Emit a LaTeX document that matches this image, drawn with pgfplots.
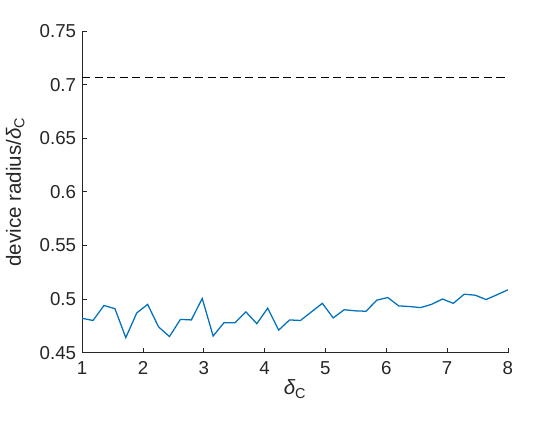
\documentclass[border=0pt]{standalone}
\usepackage{pgfplots}
\pgfplotsset{compat=1.18}
\usepackage{fontspec}
\setmainfont{Liberation Sans}
\definecolor{mblue}{rgb}{0,0.447,0.741}
\definecolor{axgray}{rgb}{0.15,0.15,0.15}
\begin{document}
\begin{tikzpicture}
\useasboundingbox (-61.5pt,-51pt) rectangle (357.75pt,264pt);
\begin{axis}[
    scale only axis,
    width=318.75pt, height=240.75pt,
    xmin=1, xmax=8, ymin=0.45, ymax=0.75,
    axis lines=left,
    axis line style={-, axgray, line width=0.6pt},
    tick style={axgray, line width=0.6pt},
    tick align=inside,
    major tick length=3.5pt,
    xtick={1,2,...,8},
    ytick={0.45,0.5,0.55,0.6,0.65,0.7,0.75},
    yticklabel style={/pgf/number format/fixed, xshift=-1pt},
    xticklabel style={yshift=-3pt},
    /pgf/number format/assume math mode=true,
    tick label style={font=\fontsize{14pt}{16pt}\selectfont, text=axgray},
    label style={font=\fontsize{15.4pt}{17pt}\selectfont, text=axgray},
    xlabel={{\itshape δ}\textsubscript{C}},
    xlabel style={yshift=3pt},
    ylabel={device radius/{\itshape δ}\textsubscript{C}},
    ylabel style={yshift=4.5pt},
    clip=false,
]
\addplot[black, line width=0.8pt, dash pattern=on 6pt off 3.4pt] coordinates {(1,0.7071) (8,0.7071)};
\addplot[mblue, line width=0.95pt] table {
x y
1.0000 0.482
1.1795 0.480
1.3590 0.494
1.5385 0.491
1.7179 0.464
1.8974 0.487
2.0769 0.495
2.2564 0.474
2.4359 0.465
2.6154 0.481
2.7949 0.4805
2.9744 0.5005
3.1538 0.4655
3.3333 0.478
3.5128 0.4778
3.6923 0.488
3.8718 0.477
4.0513 0.4915
4.2308 0.471
4.4103 0.4805
4.5897 0.480
4.7692 0.488
4.9487 0.496
5.1282 0.4824
5.3077 0.490
5.4872 0.489
5.6667 0.4886
5.8462 0.499
6.0256 0.5014
6.2051 0.4936
6.3846 0.493
6.5641 0.492
6.7436 0.495
6.9231 0.500
7.1026 0.496
7.2821 0.5045
7.4615 0.5036
7.6410 0.4995
7.8205 0.504
8.0000 0.5086
};
\end{axis}
\end{tikzpicture}
\end{document}
